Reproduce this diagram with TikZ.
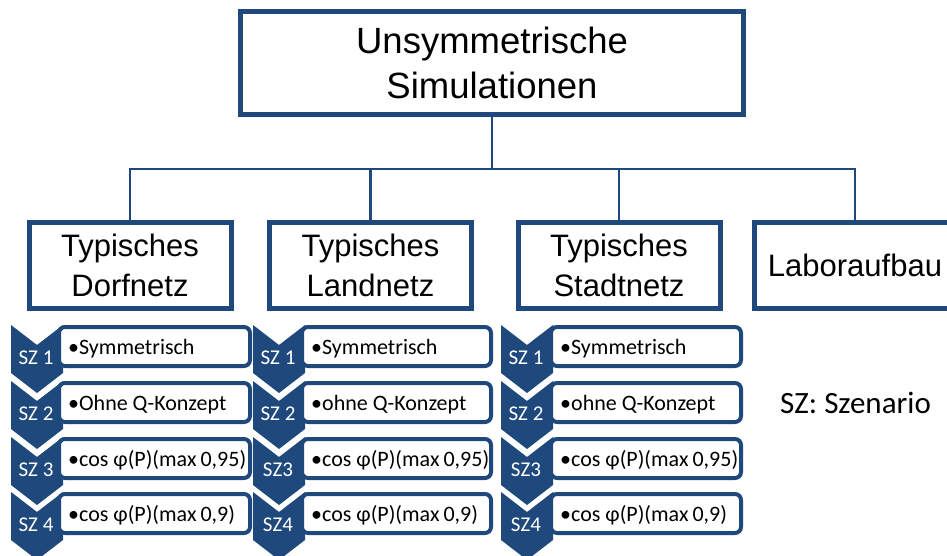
\documentclass[tikz,border=0pt]{standalone}
\usepackage{fontspec}
\setmainfont{Liberation Sans}
\newfontfamily\calfont{Carlito}
\usetikzlibrary{calc}
\definecolor{db}{RGB}{31,73,125}
\begin{document}
\begin{tikzpicture}[x=1pt,y=-1pt,
  bigbox/.style={draw=db, line width=5pt, fill=white, inner sep=0pt, align=center},
  lvl/.style={bigbox, minimum width=202pt, minimum height=86pt, font=\fontsize{31}{40}\selectfont},
  conn/.style={draw=db, line width=2.5pt},
  rowbox/.style={draw=db, line width=4pt, fill=white, rounded corners=6pt, minimum height=39pt, inner sep=0pt},
  rowtxt/.style={font=\calfont\fontsize{22}{25}\selectfont, inner sep=0pt, anchor=base west},
  szlab/.style={font=\calfont\fontsize{21}{25}\selectfont, text=white, inner sep=0pt, anchor=base},
  chevfill/.style={fill=db},
]
\path[use as bounding box, fill=white] (0,0) rectangle (947,556);
\clip (0,0) rectangle (947,556);

% top level
\node[bigbox, minimum width=503pt, minimum height=103pt, font=\fontsize{36.5}{45}\selectfont] (top) at (492,63) {Unsymmetrische\\Simulationen};

% second level
\node[lvl] (dorf) at (130,265.5) {Typisches\\Dorfnetz};
\node[lvl] (land) at (370.5,265.5) {Typisches\\Landnetz};
\node[lvl] (stadt) at (619,265.5) {Typisches\\Stadtnetz};
\node[lvl] (labor) at (855,265.5) {Laboraufbau};

% connectors
\coordinate (bus) at (492,169);
\draw[conn] (top.south) -- (bus);
\draw[conn] (bus) -| (dorf.north);
\draw[conn] (bus) -| (land.north);
\draw[conn] (bus) -| (stadt.north);
\draw[conn] (bus) -| (labor.north);

% chevrons
\foreach \cx in {37,279,527}{
  \foreach \T in {325,381,437,492}{
    \fill[chevfill] (\cx-26,\T) -- (\cx,\T+20) -- (\cx+26,\T) -- (\cx+26,\T+48) -- (\cx,\T+68) -- (\cx-26,\T+48) -- cycle;
  }
}

% column 1
\node[rowbox, minimum width=191pt] (b11) at (154.5,346.5) {};
\node[rowbox, minimum width=191pt] (b12) at (154.5,402.5) {};
\node[rowbox, minimum width=191pt] (b13) at (154.5,458.5) {};
\node[rowbox, minimum width=191pt] (b14) at (154.5,513.5) {};
\node[rowtxt] (t11) at ($(b11.west)+(11,7.5)$) {•Symmetrisch};
\node[rowtxt] (t12) at ($(b12.west)+(11,7.5)$) {•Ohne Q-Konzept};
\node[rowtxt] (t13) at ($(b13.west)+(11,7.5)$) {•cos φ(P)(max\kern4pt\relax 0,95)};
\node[rowtxt] (t14) at ($(b14.west)+(11,7.5)$) {•cos φ(P)(max\kern4pt\relax 0,9)};
\node[szlab] (s11) at (36,364) {SZ 1};
\node[szlab] (s12) at (36,420) {SZ 2};
\node[szlab] (s13) at (36,476) {SZ 3};
\node[szlab] (s14) at (36,531) {SZ 4};

% column 2
\node[rowbox, minimum width=189pt] (b21) at (396.5,346.5) {};
\node[rowbox, minimum width=189pt] (b22) at (396.5,402.5) {};
\node[rowbox, minimum width=189pt] (b23) at (396.5,458.5) {};
\node[rowbox, minimum width=189pt] (b24) at (396.5,513.5) {};
\node[rowtxt] (t21) at ($(b21.west)+(11,7.5)$) {•Symmetrisch};
\node[rowtxt] (t22) at ($(b22.west)+(11,7.5)$) {•ohne Q-Konzept};
\node[rowtxt] (t23) at ($(b23.west)+(11,7.5)$) {•cos φ(P)(max\kern4pt\relax 0,95)};
\node[rowtxt] (t24) at ($(b24.west)+(11,7.5)$) {•cos φ(P)(max\kern4pt\relax 0,9)};
\node[szlab] (s21) at (278,364) {SZ 1};
\node[szlab] (s22) at (278,420) {SZ 2};
\node[szlab] (s23) at (278,476) {SZ3};
\node[szlab] (s24) at (278,531) {SZ4};

% column 3
\node[rowbox, minimum width=190pt] (b31) at (646,346.5) {};
\node[rowbox, minimum width=190pt] (b32) at (646,402.5) {};
\node[rowbox, minimum width=190pt] (b33) at (646,458.5) {};
\node[rowbox, minimum width=190pt] (b34) at (646,513.5) {};
\node[rowtxt] (t31) at ($(b31.west)+(11,7.5)$) {•Symmetrisch};
\node[rowtxt] (t32) at ($(b32.west)+(11,7.5)$) {•ohne Q-Konzept};
\node[rowtxt] (t33) at ($(b33.west)+(11,7.5)$) {•cos φ(P)(max\kern4pt\relax 0,95)};
\node[rowtxt] (t34) at ($(b34.west)+(11,7.5)$) {•cos φ(P)(max\kern4pt\relax 0,9)};
\node[szlab] (s31) at (526,364) {SZ 1};
\node[szlab] (s32) at (526,420) {SZ 2};
\node[szlab] (s33) at (526,476) {SZ3};
\node[szlab] (s34) at (526,531) {SZ4};

% legend
\node[font=\calfont\fontsize{31}{36}\selectfont, inner sep=0pt, anchor=base west] (legend) at (780,413) {SZ: Szenario};
\end{tikzpicture}
\end{document}
